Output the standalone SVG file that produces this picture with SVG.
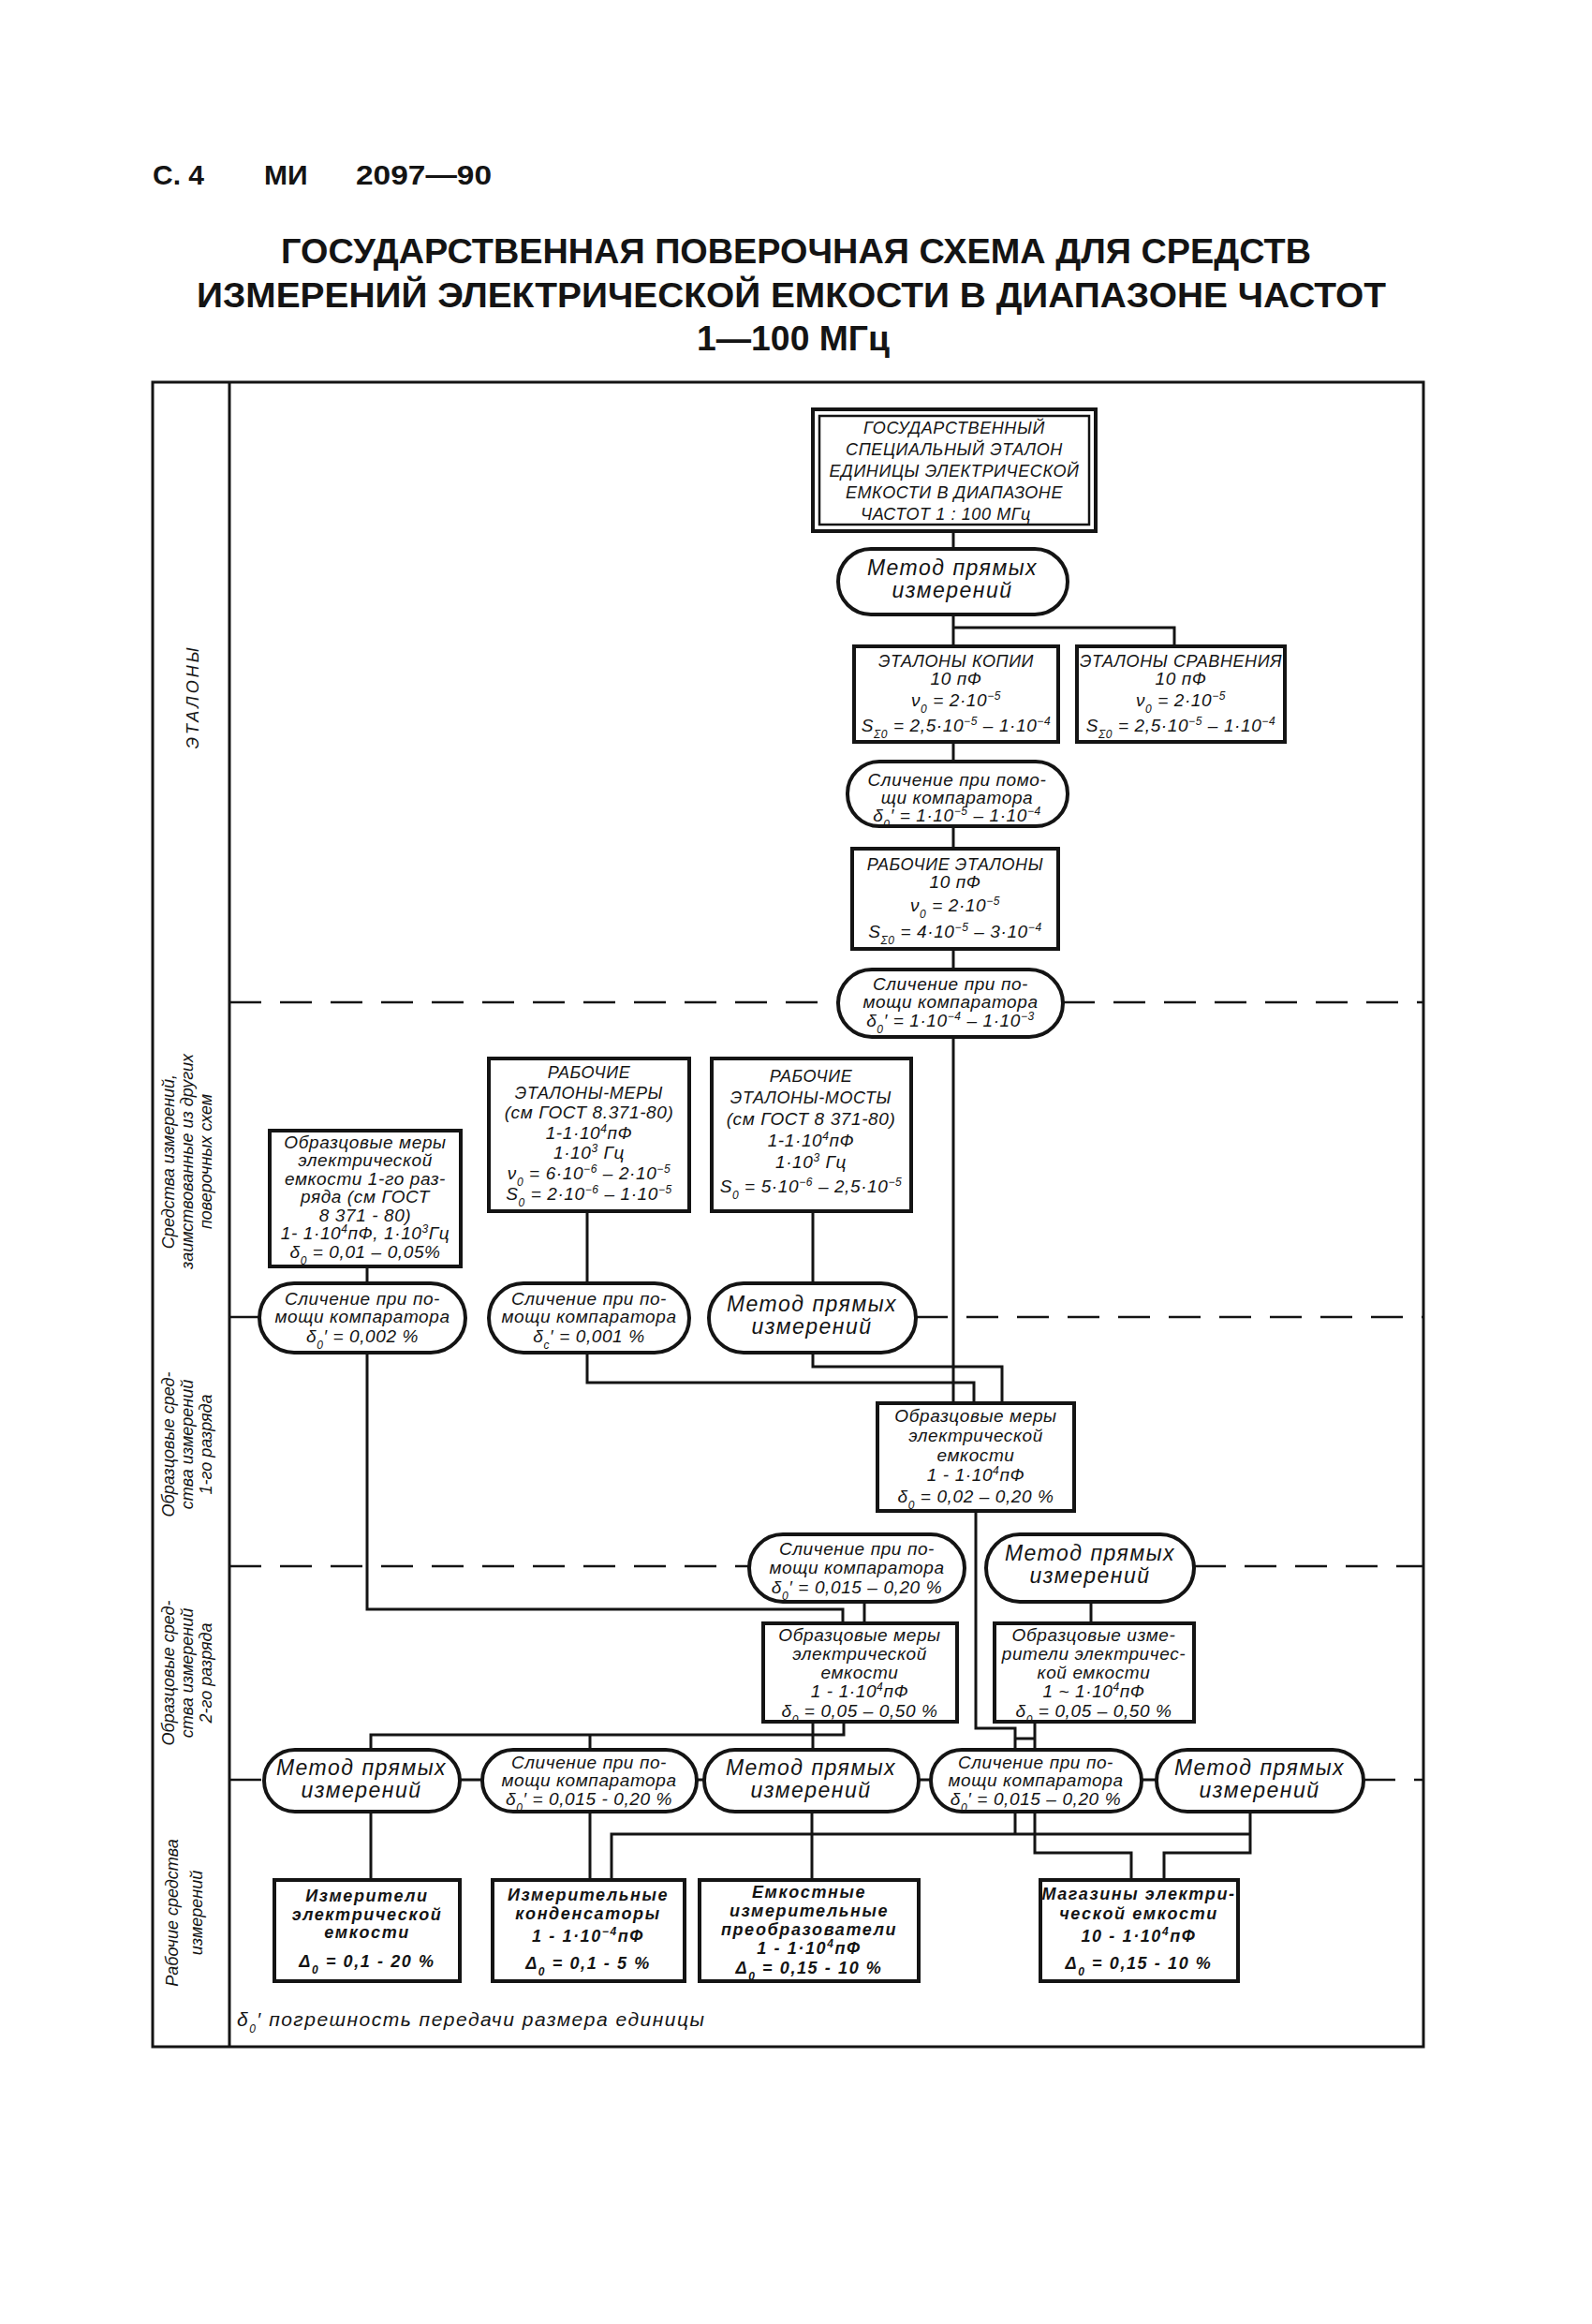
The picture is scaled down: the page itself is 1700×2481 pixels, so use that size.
<svg xmlns="http://www.w3.org/2000/svg" width="1700" height="2481" viewBox="0 0 1700 2481">
<style>
.b{fill:#fff;stroke:#141414;stroke-width:4}
.b2{fill:none;stroke:#141414;stroke-width:2.5}
.c{fill:none;stroke:#141414;stroke-width:3}
.d{fill:none;stroke:#141414;stroke-width:2.5;stroke-dasharray:34 20}
.fr{fill:none;stroke:#141414;stroke-width:3}
text{font-family:"Liberation Sans","DejaVu Sans",sans-serif;fill:#141414}
.t{font-style:italic;font-size:19px;text-anchor:middle;letter-spacing:0.6px}
.tc{font-style:italic;font-size:18px;text-anchor:middle;letter-spacing:0.6px}
.m{font-style:italic;font-size:23px;text-anchor:middle;letter-spacing:1.5px}
.w{font-style:italic;font-size:18px;text-anchor:middle;letter-spacing:1.6px;font-weight:bold}
.s{font-size:12px;baseline-shift:sub}
.p{font-size:12px;baseline-shift:super}
.h{font-weight:bold}
.lab{font-style:italic;font-size:18px;text-anchor:middle}
</style>
<rect width="1700" height="2481" fill="#fff"/>

<g id="header">
<text class="h" x="163" y="197" font-size="30">С. 4</text>
<text class="h" x="282" y="197" font-size="30">МИ</text>
<text class="h" x="380" y="197" font-size="30" textLength="145" lengthAdjust="spacingAndGlyphs">2097—90</text>
<text class="h" x="850" y="281" font-size="37" text-anchor="middle" textLength="1100" lengthAdjust="spacingAndGlyphs">ГОСУДАРСТВЕННАЯ ПОВЕРОЧНАЯ СХЕМА ДЛЯ СРЕДСТВ</text>
<text class="h" x="845" y="328" font-size="37" text-anchor="middle" textLength="1270" lengthAdjust="spacingAndGlyphs">ИЗМЕРЕНИЙ ЭЛЕКТРИЧЕСКОЙ ЕМКОСТИ В ДИАПАЗОНЕ ЧАСТОТ</text>
<text class="h" x="847" y="374" font-size="37" text-anchor="middle" textLength="206" lengthAdjust="spacingAndGlyphs">1—100 МГц</text>
</g>

<g id="frame">
<rect class="fr" x="163" y="408" width="1357" height="1777"/>
<line class="fr" x1="245" y1="408" x2="245" y2="2185"/>
</g>

<g id="left-column">
<text class="lab" transform="translate(212,744) rotate(-90)" style="letter-spacing:3px">ЭТАЛОНЫ</text>
<text class="lab" transform="translate(186,1240) rotate(-90)">Средства измерений,</text>
<text class="lab" transform="translate(206,1240) rotate(-90)">заимствованные из других</text>
<text class="lab" transform="translate(226,1240) rotate(-90)">поверочных схем</text>
<text class="lab" transform="translate(186,1542) rotate(-90)">Образцовые сред-</text>
<text class="lab" transform="translate(206,1542) rotate(-90)">ства измерений</text>
<text class="lab" transform="translate(226,1542) rotate(-90)">1-го разряда</text>
<text class="lab" transform="translate(186,1786) rotate(-90)">Образцовые сред-</text>
<text class="lab" transform="translate(206,1786) rotate(-90)">ства измерений</text>
<text class="lab" transform="translate(226,1786) rotate(-90)">2-го разряда</text>
<text class="lab" transform="translate(190,2042) rotate(-90)">Рабочие средства</text>
<text class="lab" transform="translate(216,2042) rotate(-90)">измерений</text>
</g>

<g id="section-lines">
<path class="d" d="M245,1070 H895 M1135,1070 H1520"/>
<path class="d" d="M245,1406 H277 M978,1406 H1520"/>
<path class="d" d="M245,1672 H800 M1275,1672 H1520"/>
<path class="d" d="M245,1900 H282 M1456,1900 H1520"/>
<path class="c" d="M491,1900 H515 M744,1900 H752 M981,1900 H994 M1219,1900 H1235"/>
</g>

<g id="connectors">
<path class="c" d="M1018,567 V586"/>
<path class="c" d="M1018,656 V690"/>
<path class="c" d="M1018,670 H1254 V690"/>
<path class="c" d="M1018,792 V813"/>
<path class="c" d="M1018,882 V906"/>
<path class="c" d="M1018,1013 V1035"/>
<path class="c" d="M1018,1107 V1498"/>
<path class="c" d="M627,1293 V1370"/>
<path class="c" d="M392,1352 V1370"/>
<path class="c" d="M868,1293 V1370"/>
<path class="c" d="M868,1444 V1459 H1070 V1498"/>
<path class="c" d="M627,1444 V1476 H1040 V1498"/>
<path class="c" d="M392,1444 V1718 H900 V1733"/>
<path class="c" d="M923,1710 V1733"/>
<path class="c" d="M1165,1710 V1733"/>
<path class="c" d="M1042,1613 V1845 H1084 V1868 M1084,1856 H1105 M1105,1838 V1868"/>
<path class="c" d="M868,1838 V1868 M901,1838 V1852 H396 V1868 M630,1852 V1868"/>
<path class="c" d="M396,1934 V2007"/>
<path class="c" d="M630,1934 V2007"/>
<path class="c" d="M867,1934 V2007"/>
<path class="c" d="M653,2007 V1958 H1335 M1084,1934 V1958"/>
<path class="c" d="M1105,1934 V1978 H1208 V2007 M1335,1934 V1978 H1243 V2007"/>
</g>

<g id="n-gos">
<rect class="b" x="868" y="437" width="302" height="130"/>
<rect class="b2" x="875" y="444" width="288" height="116"/>
<text class="tc" x="1019" y="463">ГОСУДАРСТВЕННЫЙ</text>
<text class="tc" x="1019" y="486">СПЕЦИАЛЬНЫЙ ЭТАЛОН</text>
<text class="tc" x="1019" y="509" letter-spacing="0">ЕДИНИЦЫ ЭЛЕКТРИЧЕСКОЙ</text>
<text class="tc" x="1019" y="532">ЕМКОСТИ В ДИАПАЗОНЕ</text>
<text class="tc" x="1010" y="555">ЧАСТОТ 1 : 100 МГц</text>
</g>

<g id="n-metod1">
<rect class="b" x="895" y="586" width="245" height="70" rx="35"/>
<text class="m" x="1017" y="614">Метод прямых</text>
<text class="m" x="1017" y="638">измерений</text>
</g>

<g id="n-kopii">
<rect class="b" x="912" y="690" width="218" height="102"/>
<text class="tc" x="1021" y="712">ЭТАЛОНЫ КОПИИ</text>
<text class="t" x="1021" y="731">10 пФ</text>
<text class="t" x="1021" y="754">ν<tspan class="s">0</tspan> = 2·10<tspan class="p">−5</tspan></text>
<text class="t" x="1021" y="781">S<tspan class="s">Σ0</tspan> = 2,5·10<tspan class="p">−5</tspan> – 1·10<tspan class="p">−4</tspan></text>
</g>

<g id="n-sravn">
<rect class="b" x="1150" y="690" width="222" height="102"/>
<text class="tc" x="1261" y="712" font-size="16.5" letter-spacing="0">ЭТАЛОНЫ СРАВНЕНИЯ</text>
<text class="t" x="1261" y="731">10 пФ</text>
<text class="t" x="1261" y="754">ν<tspan class="s">0</tspan> = 2·10<tspan class="p">−5</tspan></text>
<text class="t" x="1261" y="781">S<tspan class="s">Σ0</tspan> = 2,5·10<tspan class="p">−5</tspan> – 1·10<tspan class="p">−4</tspan></text>
</g>

<g id="n-slich1">
<rect class="b" x="905" y="813" width="235" height="69" rx="34"/>
<text class="t" x="1022" y="839">Сличение при помо-</text>
<text class="t" x="1022" y="858">щи компаратора</text>
<text class="t" x="1022" y="877">δ<tspan class="s">0</tspan>′ = 1·10<tspan class="p">−5</tspan> – 1·10<tspan class="p">−4</tspan></text>
</g>

<g id="n-rabetal">
<rect class="b" x="910" y="906" width="220" height="107"/>
<text class="tc" x="1020" y="929">РАБОЧИЕ ЭТАЛОНЫ</text>
<text class="t" x="1020" y="948">10 пФ</text>
<text class="t" x="1020" y="973">ν<tspan class="s">0</tspan> = 2·10<tspan class="p">−5</tspan></text>
<text class="t" x="1020" y="1001">S<tspan class="s">Σ0</tspan> = 4·10<tspan class="p">−5</tspan> – 3·10<tspan class="p">−4</tspan></text>
</g>

<g id="n-slich2">
<rect class="b" x="895" y="1035" width="240" height="72" rx="36"/>
<text class="t" x="1015" y="1057">Сличение при по-</text>
<text class="t" x="1015" y="1076">мощи компаратора</text>
<text class="t" x="1015" y="1096">δ<tspan class="s">0</tspan>′ = 1·10<tspan class="p">−4</tspan> – 1·10<tspan class="p">−3</tspan></text>
</g>

<g id="n-obr-mery-1r-gost">
<rect class="b" x="288" y="1207" width="204" height="145"/>
<text class="t" x="390" y="1226" font-size="18">Образцовые меры</text>
<text class="t" x="390" y="1245" font-size="18">электрической</text>
<text class="t" x="390" y="1265" font-size="18">емкости 1-го раз-</text>
<text class="t" x="390" y="1284" font-size="18">ряда (см ГОСТ</text>
<text class="t" x="390" y="1304" font-size="18">8 371 - 80)</text>
<text class="t" x="390" y="1323" font-size="18" letter-spacing="0">1- 1·10<tspan class="p">4</tspan>пФ, 1·10<tspan class="p">3</tspan>Гц</text>
<text class="t" x="390" y="1343" font-size="18">δ<tspan class="s">0</tspan> = 0,01 – 0,05%</text>
</g>

<g id="n-rab-mery">
<rect class="b" x="522" y="1130" width="214" height="163"/>
<text class="tc" x="629" y="1151">РАБОЧИЕ</text>
<text class="tc" x="629" y="1173">ЭТАЛОНЫ-МЕРЫ</text>
<text class="t" x="629" y="1194">(см ГОСТ 8.371-80)</text>
<text class="t" x="629" y="1216">1-1·10<tspan class="p">4</tspan>пФ</text>
<text class="t" x="629" y="1237">1·10<tspan class="p">3</tspan> Гц</text>
<text class="t" x="629" y="1259" letter-spacing="0">ν<tspan class="s">0</tspan> = 6·10<tspan class="p">−6</tspan> – 2·10<tspan class="p">−5</tspan></text>
<text class="t" x="629" y="1281" letter-spacing="0">S<tspan class="s">0</tspan> = 2·10<tspan class="p">−6</tspan> – 1·10<tspan class="p">−5</tspan></text>
</g>

<g id="n-rab-mosty">
<rect class="b" x="760" y="1130" width="213" height="163"/>
<text class="tc" x="866" y="1155">РАБОЧИЕ</text>
<text class="tc" x="866" y="1178">ЭТАЛОНЫ-МОСТЫ</text>
<text class="t" x="866" y="1201">(см ГОСТ 8 371-80)</text>
<text class="t" x="866" y="1224">1-1·10<tspan class="p">4</tspan>пФ</text>
<text class="t" x="866" y="1247">1·10<tspan class="p">3</tspan> Гц</text>
<text class="t" x="866" y="1273" letter-spacing="0">S<tspan class="s">0</tspan> = 5·10<tspan class="p">−6</tspan> – 2,5·10<tspan class="p">−5</tspan></text>
</g>

<g id="n-slich-0002">
<rect class="b" x="277" y="1370" width="220" height="74" rx="37"/>
<text class="t" x="387" y="1393">Сличение при по-</text>
<text class="t" x="387" y="1412">мощи компаратора</text>
<text class="t" x="387" y="1433">δ<tspan class="s">0</tspan>′ = 0,002 %</text>
</g>

<g id="n-slich-0001">
<rect class="b" x="522" y="1370" width="214" height="74" rx="37"/>
<text class="t" x="629" y="1393">Сличение при по-</text>
<text class="t" x="629" y="1412">мощи компаратора</text>
<text class="t" x="629" y="1433">δ<tspan class="s">c</tspan>′ = 0,001 %</text>
</g>

<g id="n-metod2">
<rect class="b" x="757" y="1370" width="221" height="74" rx="37"/>
<text class="m" x="867" y="1400">Метод прямых</text>
<text class="m" x="867" y="1424">измерений</text>
</g>

<g id="n-obr-mery-1r">
<rect class="b" x="937" y="1498" width="210" height="115"/>
<text class="t" x="1042" y="1518">Образцовые меры</text>
<text class="t" x="1042" y="1539">электрической</text>
<text class="t" x="1042" y="1560">емкости</text>
<text class="t" x="1042" y="1581">1 - 1·10<tspan class="p">4</tspan>пФ</text>
<text class="t" x="1042" y="1604">δ<tspan class="s">0</tspan> = 0,02 – 0,20 %</text>
</g>

<g id="n-slich-0015a">
<rect class="b" x="800" y="1638" width="230" height="72" rx="36"/>
<text class="t" x="915" y="1660">Сличение при по-</text>
<text class="t" x="915" y="1680">мощи компаратора</text>
<text class="t" x="915" y="1701">δ<tspan class="s">0</tspan>′ = 0,015 – 0,20 %</text>
</g>

<g id="n-metod3">
<rect class="b" x="1053" y="1638" width="222" height="72" rx="36"/>
<text class="m" x="1164" y="1666">Метод прямых</text>
<text class="m" x="1164" y="1690">измерений</text>
</g>

<g id="n-obr-mery-2r">
<rect class="b" x="815" y="1733" width="207" height="105"/>
<text class="t" x="918" y="1752">Образцовые меры</text>
<text class="t" x="918" y="1772">электрической</text>
<text class="t" x="918" y="1792">емкости</text>
<text class="t" x="918" y="1812">1 - 1·10<tspan class="p">4</tspan>пФ</text>
<text class="t" x="918" y="1833">δ<tspan class="s">0</tspan> = 0,05 – 0,50 %</text>
</g>

<g id="n-obr-izmer-2r">
<rect class="b" x="1062" y="1733" width="213" height="105"/>
<text class="t" x="1168" y="1752">Образцовые изме-</text>
<text class="t" x="1168" y="1772" letter-spacing="0">рители электричес-</text>
<text class="t" x="1168" y="1792">кой емкости</text>
<text class="t" x="1168" y="1812">1 ~ 1·10<tspan class="p">4</tspan>пФ</text>
<text class="t" x="1168" y="1833">δ<tspan class="s">0</tspan> = 0,05 – 0,50 %</text>
</g>

<g id="n-p1">
<rect class="b" x="282" y="1868" width="209" height="66" rx="33"/>
<text class="m" x="386" y="1895">Метод прямых</text>
<text class="m" x="386" y="1919">измерений</text>
</g>
<g id="n-p2">
<rect class="b" x="515" y="1868" width="229" height="66" rx="33"/>
<text class="t" x="629" y="1888">Сличение при по-</text>
<text class="t" x="629" y="1907">мощи компаратора</text>
<text class="t" x="629" y="1927">δ<tspan class="s">0</tspan>′ = 0,015 - 0,20 %</text>
</g>
<g id="n-p3">
<rect class="b" x="752" y="1868" width="229" height="66" rx="33"/>
<text class="m" x="866" y="1895">Метод прямых</text>
<text class="m" x="866" y="1919">измерений</text>
</g>
<g id="n-p4">
<rect class="b" x="994" y="1868" width="225" height="66" rx="33"/>
<text class="t" x="1106" y="1888">Сличение при по-</text>
<text class="t" x="1106" y="1907">мощи компаратора</text>
<text class="t" x="1106" y="1927">δ<tspan class="s">0</tspan>′ = 0,015 – 0,20 %</text>
</g>
<g id="n-p5">
<rect class="b" x="1235" y="1868" width="221" height="66" rx="33"/>
<text class="m" x="1345" y="1895">Метод прямых</text>
<text class="m" x="1345" y="1919">измерений</text>
</g>

<g id="n-t1">
<rect class="b" x="293" y="2007" width="198" height="108"/>
<text class="w" x="392" y="2030">Измерители</text>
<text class="w" x="392" y="2050">электрической</text>
<text class="w" x="392" y="2069">емкости</text>
<text class="w" x="392" y="2100">Δ<tspan class="s">0</tspan> = 0,1 - 20 %</text>
</g>
<g id="n-t2">
<rect class="b" x="526" y="2007" width="205" height="108"/>
<text class="w" x="628" y="2029">Измерительные</text>
<text class="w" x="628" y="2049">конденсаторы</text>
<text class="w" x="628" y="2073">1 - 1·10<tspan class="p">−4</tspan>пФ</text>
<text class="w" x="628" y="2102">Δ<tspan class="s">0</tspan> = 0,1 - 5 %</text>
</g>
<g id="n-t3">
<rect class="b" x="747" y="2007" width="234" height="108"/>
<text class="w" x="864" y="2026">Емкостные</text>
<text class="w" x="864" y="2046">измерительные</text>
<text class="w" x="864" y="2066">преобразователи</text>
<text class="w" x="864" y="2086">1 - 1·10<tspan class="p">4</tspan>пФ</text>
<text class="w" x="864" y="2107">Δ<tspan class="s">0</tspan> = 0,15 - 10 %</text>
</g>
<g id="n-t4">
<rect class="b" x="1111" y="2007" width="211" height="108"/>
<text class="w" x="1216" y="2028" letter-spacing="0.6">Магазины электри-</text>
<text class="w" x="1216" y="2049">ческой емкости</text>
<text class="w" x="1216" y="2073">10 - 1·10<tspan class="p">4</tspan>пФ</text>
<text class="w" x="1216" y="2102">Δ<tspan class="s">0</tspan> = 0,15 - 10 %</text>
</g>

<g id="footnote">
<text x="253" y="2163" font-style="italic" font-size="21" letter-spacing="1.5">δ<tspan class="s">0</tspan>′   погрешность передачи размера единицы</text>
</g>
</svg>
